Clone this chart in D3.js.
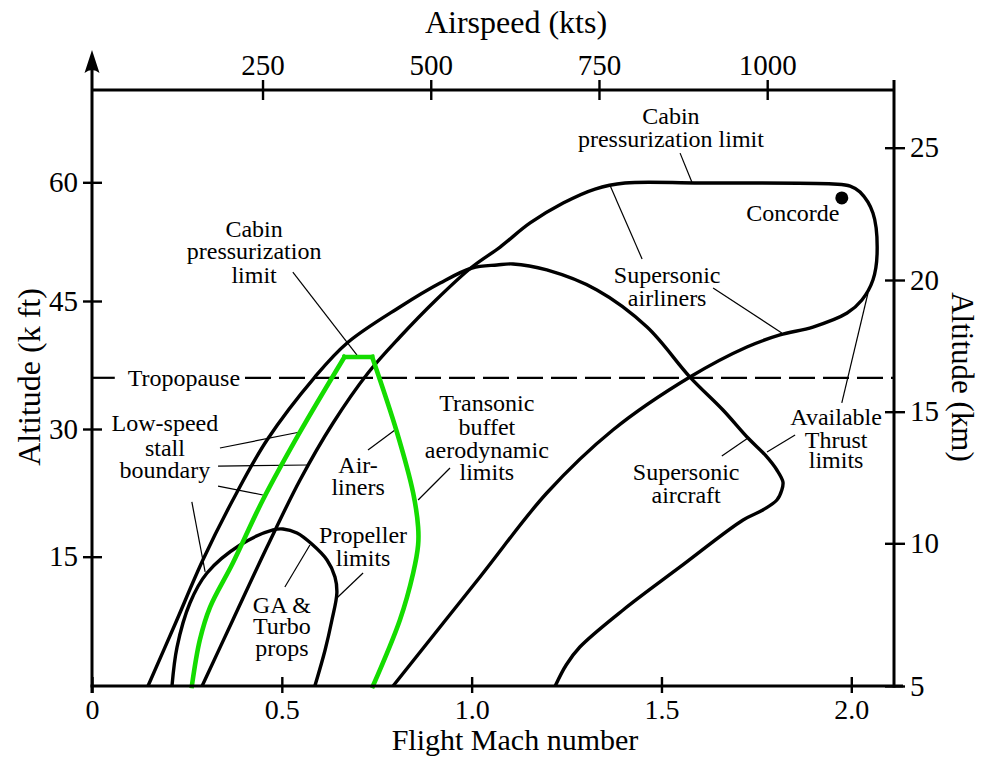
<!DOCTYPE html>
<html>
<head>
<meta charset="utf-8">
<script src="https://cdn.jsdelivr.net/npm/d3@7"></script>
<style>
  body { margin: 0; background: #fff; }
  svg text { font-family: "Liberation Serif", "Times New Roman", serif; fill: #000; }
</style>
</head>
<body>
<script>
// ticks
const machTicks = [0, 0.5, 1.0, 1.5, 2.0];
const altTicks = [15, 30, 45, 60];
const ktsTicks = [250, 500, 750, 1000];
const kmTicks = [5, 10, 15, 20, 25];
const tropopauseAlt = 36;

// envelopes, [mach, altitude k ft]
const supersonicAirliners = [
  [0.290, 0], [0.371, 7.66], [0.461, 16.14], [0.548, 24.01], [0.635, 30.70],
  [0.727, 36.56], [0.811, 40.78], [0.906, 45.13], [1.001, 49.30], [1.075, 51.82],
  [1.154, 54.86], [1.241, 57.38], [1.325, 59.15], [1.404, 59.91], [1.601, 59.91],
  [1.952, 59.79], [1.997, 59.53], [2.023, 58.77], [2.057, 56.12], [2.068, 51.07],
  [2.057, 47.65], [2.028, 45.13], [1.989, 43.59], [1.899, 41.95], [1.812, 41.02],
  [1.725, 39.61], [1.575, 36.09], [1.372, 29.88], [1.198, 22.48], [1.022, 12.65],
  [0.793, 0]
];
const supersonicAircraft = [
  [0.1475, 0], [0.219, 7.19], [0.292, 14.61], [0.371, 21.66], [0.461, 28.71],
  [0.587, 36.09], [0.672, 40.08], [0.811, 44.30], [0.917, 47.27], [1.001, 49.17],
  [1.067, 49.55], [1.109, 49.68], [1.198, 48.92], [1.330, 46.39], [1.462, 41.95],
  [1.575, 36.09], [1.662, 32.23], [1.728, 28.94], [1.773, 26.95], [1.804, 25.18],
  [1.820, 23.77], [1.817, 22.84], [1.804, 21.66], [1.767, 20.49], [1.715, 19.31],
  [1.549, 13.81], [1.399, 8.82], [1.285, 4.52], [1.249, 2.44], [1.220, 0]
];
const gaTurboprops = [
  [0.2107, 0], [0.224, 4.52], [0.258, 9.63], [0.303, 13.11], [0.390, 16.37],
  [0.477, 18.14], [0.503, 18.26], [0.540, 17.79], [0.579, 16.49], [0.619, 14.62],
  [0.640, 12.65], [0.645, 10.79], [0.632, 7.66], [0.614, 4.18], [0.587, 0]
];
// airliner band: rising side, flat top, falling side
const airlinersClimb = [
  [0.263, 0], [0.284, 5.34], [0.311, 9.16], [0.371, 14.27], [0.450, 21.66],
  [0.548, 29.65], [0.665, 38.44]
];
const airlinersTop = [[0.665, 38.44], [0.738, 38.44]];
const airlinersDescent = [
  [0.738, 38.44], [0.803, 29.65], [0.846, 22.48], [0.859, 18.49], [0.859, 16.37],
  [0.846, 13.11], [0.811, 7.66], [0.740, 0]
];
const concorde = [1.975, 58.02];

// labels: [text, mach (centre), altitude]
const labels = [
  ["Cabin", 1.525, 68.38], ["pressurization limit", 1.525, 65.47],
  ["Cabin", 0.427, 54.10], ["pressurization", 0.427, 51.32], ["limit", 0.427, 48.29],
  ["Low-speed", 0.192, 30.70], ["stall", 0.192, 27.77], ["boundary", 0.192, 25.18],
  ["Air-", 0.701, 25.77], ["liners", 0.701, 23.19],
  ["Transonic", 1.040, 33.05], ["buffet", 1.040, 30.23], ["aerodynamic", 1.040, 27.53], ["limits", 1.040, 24.95],
  ["Propeller", 0.714, 17.55], ["limits", 0.714, 14.85],
  ["GA &", 0.500, 9.40], ["Turbo", 0.500, 6.96], ["props", 0.500, 4.41],
  ["Supersonic", 1.515, 48.29], ["airliners", 1.515, 45.38],
  ["Concorde", 1.846, 56.12],
  ["Available", 1.960, 31.41], ["Thrust", 1.960, 28.71], ["limits", 1.960, 26.36],
  ["Supersonic", 1.565, 24.95], ["aircraft", 1.565, 22.25]
];
// leader lines: [mach1, alt1, mach2, alt2]
const leaders = [
  [1.549, 63.70, 1.580, 60.04],
  [0.529, 48.66, 0.698, 38.67],
  [0.337, 27.77, 0.548, 29.65],
  [0.332, 25.65, 0.569, 25.77],
  [0.332, 23.30, 0.450, 22.25],
  [0.263, 21.43, 0.298, 13.23],
  [0.727, 27.53, 0.798, 29.88],
  [0.943, 25.42, 0.859, 21.66],
  [0.714, 13.11, 0.645, 10.21],
  [0.508, 11.49, 0.574, 16.37],
  [1.449, 50.31, 1.364, 59.66],
  [1.636, 46.64, 1.817, 41.25],
  [1.975, 33.05, 2.044, 46.01],
  [1.852, 29.30, 1.778, 27.30],
  [1.659, 26.83, 1.728, 28.94]
];

const svg = d3.select("body").append("svg")
  .attr("width", 981)
  .attr("height", 757);

// scales (the altitude ticks in the picture are not evenly spaced)
const x = d3.scaleLinear().domain([0, 2.1125]).range([92, 894]);
const y = d3.scaleLinear().domain([0, 15, 30, 45, 60, 71.7]).range([686, 556.7, 429, 301, 182.3, 90]);
const xKts = d3.scaleLinear().domain([0, 1000]).range([94.3, 767.2]);
const yKm = d3.scaleLinear().domain([5, 10, 15, 20, 25]).range([686, 543.3, 411.7, 280, 147.7]);

const line = d3.line()
  .x(d => x(d[0]))
  .y(d => y(d[1]))
  .curve(d3.curveCatmullRom.alpha(0.5));

// tropopause
svg.append("line")
  .attr("x1", x(0)).attr("x2", x(0.06))
  .attr("y1", y(tropopauseAlt)).attr("y2", y(tropopauseAlt))
  .attr("stroke", "#000").attr("stroke-width", 2.2);
svg.append("line")
  .attr("x1", x(0.403)).attr("x2", x(2.1125))
  .attr("y1", y(tropopauseAlt)).attr("y2", y(tropopauseAlt))
  .attr("stroke", "#000").attr("stroke-width", 2.2)
  .attr("stroke-dasharray", "26,8");
svg.append("text")
  .attr("x", x(0.242)).attr("y", y(tropopauseAlt))
  .attr("dy", "0.33em")
  .attr("text-anchor", "middle")
  .attr("font-size", 24)
  .text("Tropopause");

// leaders
svg.selectAll(".leader")
  .data(leaders)
  .enter()
  .append("line")
  .attr("x1", d => x(d[0])).attr("y1", d => y(d[1]))
  .attr("x2", d => x(d[2])).attr("y2", d => y(d[3]))
  .attr("stroke", "#000")
  .attr("stroke-width", 1.2);

// envelopes
[supersonicAirliners, supersonicAircraft, gaTurboprops].forEach(function(env) {
  svg.append("path")
    .attr("d", line(env))
    .attr("fill", "none")
    .attr("stroke", "#000")
    .attr("stroke-width", 3.4)
    .attr("stroke-linejoin", "round");
});
[airlinersClimb, airlinersTop, airlinersDescent].forEach(function(seg) {
  svg.append("path")
    .attr("d", line(seg))
    .attr("fill", "none")
    .attr("stroke", "#14dc00")
    .attr("stroke-width", 4.6)
    .attr("stroke-linejoin", "miter")
    .attr("stroke-linecap", "square");
});

svg.append("circle")
  .attr("cx", x(concorde[0])).attr("cy", y(concorde[1]))
  .attr("r", 6.5)
  .attr("fill", "#000");

svg.selectAll(".lbl")
  .data(labels)
  .enter()
  .append("text")
  .attr("x", d => x(d[1]))
  .attr("y", d => y(d[2]))
  .attr("dy", "0.33em")
  .attr("text-anchor", "middle")
  .attr("font-size", 24)
  .text(d => d[0]);

// axes
function styleAxis(g, fontSize) {
  g.select(".domain").remove();
  g.selectAll(".tick line").attr("stroke", "#000").attr("stroke-width", 2.4);
  g.selectAll(".tick text")
    .attr("font-size", fontSize)
    .attr("font-family", "Liberation Serif, serif")
    .attr("fill", "#000");
}

const gBottom = svg.append("g")
  .attr("transform", "translate(0,686)")
  .call(d3.axisBottom(x).tickValues(machTicks)
    .tickFormat(d => d === 0 ? "0" : d3.format(".1f")(d))
    .tickSize(7).tickPadding(6));
styleAxis(gBottom, 28);
gBottom.selectAll(".tick line").attr("y1", -9);

const gTop = svg.append("g")
  .attr("transform", "translate(0,90)")
  .call(d3.axisTop(xKts).tickValues(ktsTicks).tickFormat(d3.format("d"))
    .tickSize(10).tickPadding(5));
styleAxis(gTop, 29);
gTop.selectAll(".tick line").attr("y1", 10);

const gLeft = svg.append("g")
  .attr("transform", "translate(92,0)")
  .call(d3.axisLeft(y).tickValues(altTicks).tickSize(9).tickPadding(5));
styleAxis(gLeft, 29);
gLeft.selectAll(".tick line").attr("x1", 10);

const gRight = svg.append("g")
  .attr("transform", "translate(894,0)")
  .call(d3.axisRight(yKm).tickValues(kmTicks).tickSize(11).tickPadding(5));
styleAxis(gRight, 29);
gRight.selectAll(".tick line").attr("x1", -9);

// frame
const frame = svg.append("g").attr("stroke", "#000").attr("stroke-width", 3).attr("fill", "none");
frame.append("line").attr("x1", 92).attr("x2", 92).attr("y1", 693).attr("y2", 62);
frame.append("line").attr("x1", 90.5).attr("x2", 903).attr("y1", 686).attr("y2", 686);
frame.append("line").attr("x1", 92).attr("x2", 894).attr("y1", 90).attr("y2", 90);
frame.append("line").attr("x1", 894).attr("x2", 894).attr("y1", 80).attr("y2", 687.5);
svg.append("path")
  .attr("d", "M92,50 L99.5,73 Q92,67 84.5,73 Z")
  .attr("fill", "#000");

// titles
svg.append("text")
  .attr("x", 516).attr("y", 33)
  .attr("text-anchor", "middle")
  .attr("font-size", 32)
  .text("Airspeed (kts)");
svg.append("text")
  .attr("x", 515).attr("y", 750)
  .attr("text-anchor", "middle")
  .attr("font-size", 30)
  .text("Flight Mach number");
svg.append("text")
  .attr("transform", "translate(40,377) rotate(-90)")
  .attr("text-anchor", "middle")
  .attr("font-size", 32)
  .text("Altitude (k ft)");
svg.append("text")
  .attr("transform", "translate(952,377) rotate(90)")
  .attr("text-anchor", "middle")
  .attr("font-size", 31)
  .text("Altitude (km)");
</script>
</body>
</html>
